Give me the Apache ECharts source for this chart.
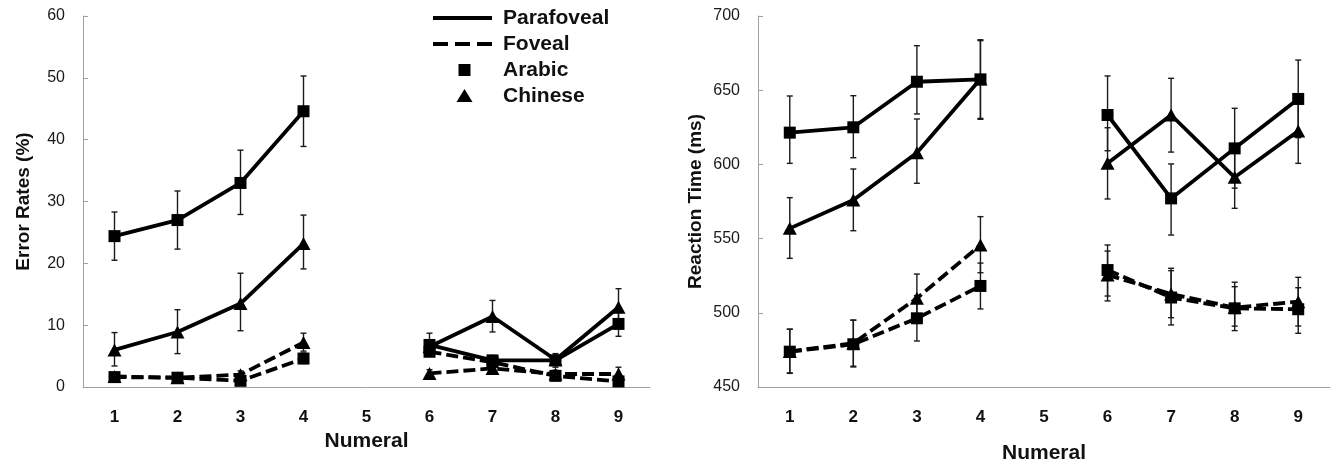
<!DOCTYPE html>
<html>
<head>
<meta charset="utf-8">
<script src="https://cdn.jsdelivr.net/npm/echarts@6/dist/echarts.min.js"></script>
<style>
html,body{margin:0;padding:0;background:#fff;}
#chart{width:1331px;height:465px;}
</style>
</head>
<body>
<div id="chart"></div>
<script>
// ---------- data ----------
var numerals = ['1','2','3','4','5','6','7','8','9'];
var errTicks = [0,10,20,30,40,50,60];
var rtTicks = [450,500,550,600,650,700];

// Error rates (%)
var errParaArabic    = [24.4, 27.0, 33.0, 44.6, null, 6.8, 4.3, 4.3, 10.2];
var errParaArabicLo  = [20.5, 22.3, 27.9, 38.9, null, 5.0, 3.5, 3.2, 8.2];
var errParaArabicHi  = [28.3, 31.7, 38.3, 50.3, null, 8.7, 5.1, 5.4, 12.1];
var errParaChinese   = [6.0, 8.9, 13.5, 23.2, null, 6.5, 11.4, 4.4, 12.9];
var errParaChineseLo = [3.4, 5.4, 9.1, 19.1, null, 5.5, 8.9, 3.6, 9.9];
var errParaChineseHi = [8.8, 12.5, 18.4, 27.8, null, 7.5, 14.0, 5.2, 15.9];
var errFovArabic     = [1.6, 1.5, 1.0, 4.6, null, 5.7, 4.0, 1.8, 0.9];
var errFovArabicLo   = [0.9, 0.9, 0.4, 3.8, null, 5.0, 3.3, 1.2, 0.3];
var errFovArabicHi   = [2.3, 2.1, 1.6, 5.5, null, 6.4, 4.7, 2.4, 1.5];
var errFovChinese    = [1.7, 1.5, 2.0, 7.2, null, 2.2, 3.0, 2.1, 2.1];
var errFovChineseLo  = [1.1, 1.0, 1.4, 5.8, null, 1.6, 2.3, 1.5, 1.1];
var errFovChineseHi  = [2.3, 2.0, 2.6, 8.7, null, 2.8, 3.7, 2.7, 3.2];

// Reaction time (ms)
var rtParaArabic    = [621.4, 625.0, 655.7, 657.3, null, 633.3, 577.1, 610.8, 644.1];
var rtParaArabicLo  = [600.7, 604.5, 634.0, 630.4, null, 609.2, 552.4, 584.0, 618.0];
var rtParaArabicHi  = [646.1, 646.3, 680.0, 683.4, null, 659.6, 600.3, 637.8, 670.3];
var rtParaChinese   = [556.9, 576.0, 607.9, 657.5, null, 600.7, 633.3, 591.3, 622.5];
var rtParaChineseLo = [536.7, 555.3, 587.3, 631.0, null, 576.7, 608.3, 570.4, 600.7];
var rtParaChineseHi = [577.6, 596.9, 630.6, 684.0, null, 624.7, 658.0, 612.2, 644.3];
var rtFovArabic     = [473.8, 478.8, 496.3, 518.1, null, 528.8, 510.3, 503.0, 502.4];
var rtFovArabicLo   = [459.2, 463.5, 481.0, 502.6, null, 511.3, 491.8, 488.0, 486.2];
var rtFovArabicHi   = [488.9, 495.1, 511.5, 533.5, null, 545.7, 528.4, 517.6, 516.9];
var rtFovChinese    = [474.0, 479.5, 509.8, 545.7, null, 525.5, 512.7, 503.5, 507.5];
var rtFovChineseLo  = [459.5, 464.0, 494.0, 527.0, null, 508.0, 496.7, 491.0, 491.1];
var rtFovChineseHi  = [489.0, 495.0, 526.1, 564.8, null, 541.6, 530.0, 520.6, 523.9];

var legendLabels = ['Parafoveal', 'Foveal', 'Arabic', 'Chinese'];

// ---------- helpers ----------
var FONT = '"Liberation Sans", Arial, sans-serif';
var AXIS_COLOR = '#a0a0a0';
var DASH = [12, 5];

function errData(lo, hi) {
  var out = [];
  for (var i = 0; i < lo.length; i++) {
    if (lo[i] != null && hi[i] != null) out.push([i, lo[i], hi[i]]);
  }
  return out;
}
function renderErr(params, api) {
  var x = api.value(0);
  var p1 = api.coord([x, api.value(2)]);
  var p2 = api.coord([x, api.value(1)]);
  var w = 3;
  var st = {stroke: '#1a1a1a', lineWidth: 1.4};
  return {type: 'group', children: [
    {type: 'line', shape: {x1: p1[0], y1: p1[1], x2: p2[0], y2: p2[1]}, style: st},
    {type: 'line', shape: {x1: p1[0]-w, y1: p1[1], x2: p1[0]+w, y2: p1[1]}, style: st},
    {type: 'line', shape: {x1: p2[0]-w, y1: p2[1], x2: p2[0]+w, y2: p2[1]}, style: st}
  ]};
}
function lineSeries(idx, data, dashed, symbol) {
  return {
    type: 'line', xAxisIndex: idx, yAxisIndex: idx, data: data,
    connectNulls: false, symbol: symbol,
    symbolSize: symbol === 'rect' ? 12 : [14, 13],
    showAllSymbol: true, z: 3,
    lineStyle: {color: '#000', width: 3.8, type: dashed ? DASH : 'solid'},
    itemStyle: {color: '#000'},
    silent: true
  };
}
function errSeries(idx, lo, hi) {
  return {
    type: 'custom', xAxisIndex: idx, yAxisIndex: idx,
    data: errData(lo, hi), renderItem: renderErr,
    encode: {x: 0, y: [1, 2]}, z: 2, silent: true
  };
}
function xAxisDef(idx, gap) {
  return {
    type: 'category', gridIndex: idx, data: numerals, boundaryGap: true,
    name: 'Numeral', nameLocation: 'middle', nameGap: gap,
    nameTextStyle: {fontFamily: FONT, fontWeight: 'bold', fontSize: 21, color: '#111'},
    axisLine: {lineStyle: {color: AXIS_COLOR, width: 1}},
    axisTick: {inside: true, length: 5, lineStyle: {color: AXIS_COLOR}},
    axisLabel: {fontFamily: FONT, fontWeight: 'bold', fontSize: 17, color: '#111', margin: 22},
    splitLine: {show: false}
  };
}
function yAxisDef(idx, ticks, name, gap) {
  return {
    type: 'value', gridIndex: idx, min: ticks[0], max: ticks[ticks.length-1],
    interval: ticks[1]-ticks[0],
    name: name, nameLocation: 'middle', nameGap: gap,
    nameTextStyle: {fontFamily: FONT, fontWeight: 'bold', fontSize: 19, color: '#111'},
    axisLine: {show: true, lineStyle: {color: AXIS_COLOR, width: 1}},
    axisTick: {show: true, inside: true, length: 5, lineStyle: {color: AXIS_COLOR}},
    axisLabel: {fontFamily: FONT, fontSize: 16, color: '#1a1a1a', margin: 18},
    splitLine: {show: false}
  };
}

// legend drawn as graphic
var legendX = 433, legendTextX = 503, legendY = [18, 44, 70, 96];
var legendGraphics = [
  {type: 'line', shape: {x1: legendX, y1: legendY[0], x2: legendX+59, y2: legendY[0]},
   style: {stroke: '#000', lineWidth: 4}},
  {type: 'line', shape: {x1: legendX, y1: legendY[1], x2: legendX+59, y2: legendY[1]},
   style: {stroke: '#000', lineWidth: 4, lineDash: [15, 7]}},
  {type: 'rect', shape: {x: legendX+25.5, y: legendY[2]-6, width: 12, height: 12},
   style: {fill: '#000'}},
  {type: 'polygon', shape: {points: [[legendX+31.5, legendY[3]-7], [legendX+39.5, legendY[3]+6], [legendX+23.5, legendY[3]+6]]},
   style: {fill: '#000'}}
];
for (var k = 0; k < legendLabels.length; k++) {
  legendGraphics.push({type: 'text', x: legendTextX, y: legendY[k],
    style: {text: legendLabels[k], font: 'bold 21px ' + FONT, fill: '#111', verticalAlign: 'middle', align: 'left'}});
}

var option = {
  animation: false,
  backgroundColor: '#fff',
  grid: [
    {left: 83, top: 16, width: 567, height: 371, containLabel: false, outerBoundsMode: 'none'},
    {left: 758, top: 16, width: 572, height: 371, containLabel: false, outerBoundsMode: 'none'}
  ],
  xAxis: [xAxisDef(0, 43), xAxisDef(1, 56)],
  yAxis: [yAxisDef(0, errTicks, 'Error Rates (%)', 50), yAxisDef(1, rtTicks, 'Reaction Time (ms)', 53)],
  graphic: legendGraphics,
  series: [
    errSeries(0, errParaArabicLo, errParaArabicHi),
    errSeries(0, errParaChineseLo, errParaChineseHi),
    errSeries(0, errFovArabicLo, errFovArabicHi),
    errSeries(0, errFovChineseLo, errFovChineseHi),
    lineSeries(0, errParaArabic, false, 'rect'),
    lineSeries(0, errParaChinese, false, 'triangle'),
    lineSeries(0, errFovArabic, true, 'rect'),
    lineSeries(0, errFovChinese, true, 'triangle'),
    errSeries(1, rtParaArabicLo, rtParaArabicHi),
    errSeries(1, rtParaChineseLo, rtParaChineseHi),
    errSeries(1, rtFovArabicLo, rtFovArabicHi),
    errSeries(1, rtFovChineseLo, rtFovChineseHi),
    lineSeries(1, rtParaArabic, false, 'rect'),
    lineSeries(1, rtParaChinese, false, 'triangle'),
    lineSeries(1, rtFovArabic, true, 'rect'),
    lineSeries(1, rtFovChinese, true, 'triangle')
  ]
};
var chart = echarts.init(document.getElementById('chart'), null, {renderer: 'canvas'});
chart.setOption(option);
</script>
</body>
</html>
